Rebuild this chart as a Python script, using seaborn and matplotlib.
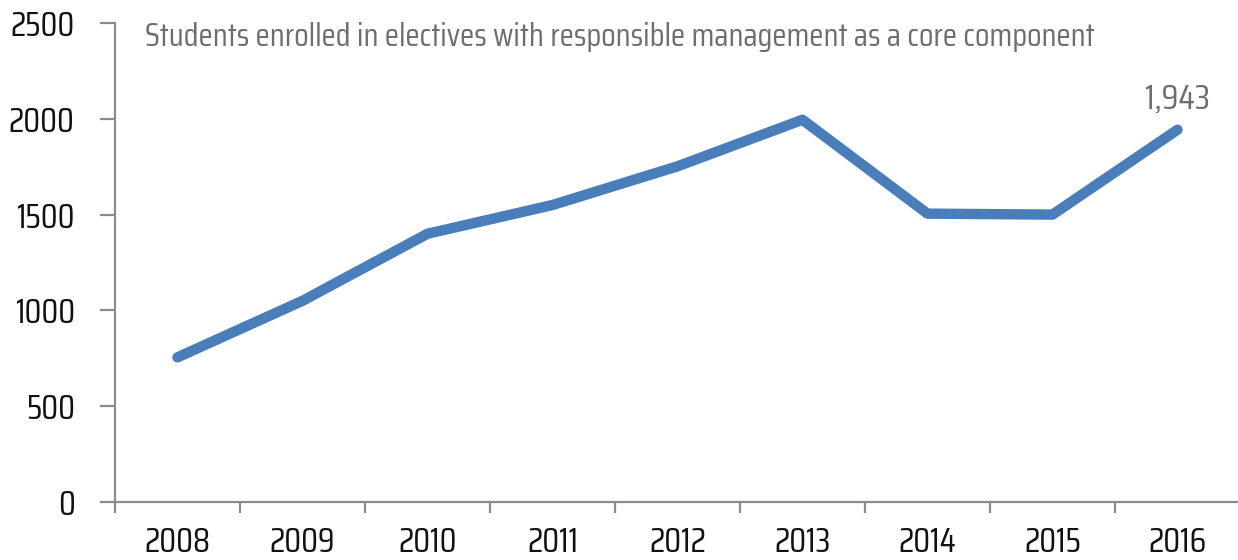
import matplotlib
matplotlib.use("Agg")
import matplotlib.pyplot as plt
import seaborn as sns
import pandas as pd
from matplotlib.ticker import MultipleLocator, FixedLocator

years = ["2008", "2009", "2010", "2011", "2012", "2013", "2014", "2015", "2016"]
students = [755, 1050, 1400, 1550, 1752, 1995, 1505, 1500, 1943]
title_text = "Students enrolled in electives with responsible management as a core component"
last_label = "1,943"

sns.set_theme(style="white")
plt.rcParams['font.family'] = ['Saira Extra Condensed', 'Saira Condensed', 'Pathway Gothic One',
                               'Abel', 'DejaVu Sans']

W, H = 1238, 560
fig = plt.figure(figsize=(W / 100, H / 100), dpi=100)
ax = fig.add_axes([115 / W, 58 / H, (1240 - 115) / W, (537 - 58) / H])

df = pd.DataFrame({"year": years, "students": students})
sns.lineplot(data=df, x="year", y="students", ax=ax, color="#4A7EBB",
             linewidth=7.5, solid_capstyle="round", solid_joinstyle="round")

ax.set_xlim(-0.5, len(years) - 0.5)
ax.set_ylim(0, 2500)
ax.yaxis.set_major_locator(MultipleLocator(500))
ax.set_xlabel("")
ax.set_ylabel("")

axis_col = "#8c8c8c"
for s in ["top", "right"]:
    ax.spines[s].set_visible(False)
for s in ["left", "bottom"]:
    ax.spines[s].set_color(axis_col)
    ax.spines[s].set_linewidth(1.6)

ax.tick_params(axis="y", which="major", direction="out", length=11, width=1.6,
               color=axis_col, pad=18, labelsize=25, labelcolor="#111111", left=True)
ax.xaxis.set_minor_locator(FixedLocator([i - 0.5 for i in range(len(years) + 1)]))
ax.tick_params(axis="x", which="major", length=0, pad=17, labelsize=25, labelcolor="#111111")
ax.tick_params(axis="x", which="minor", direction="out", length=8, width=1.6,
               color=axis_col, bottom=True)

fig.text(145 / W, 1 - 37 / H, title_text, fontsize=23.8,
         color="#6e6e6e", ha="left", va="center")
ax.annotate(last_label, xy=(len(years) - 1, students[-1]), xytext=(0, 22),
            textcoords="offset points", ha="center", va="center",
            fontsize=25.5, color="#6e6e6e")

fig.savefig("out.png", dpi=100)
